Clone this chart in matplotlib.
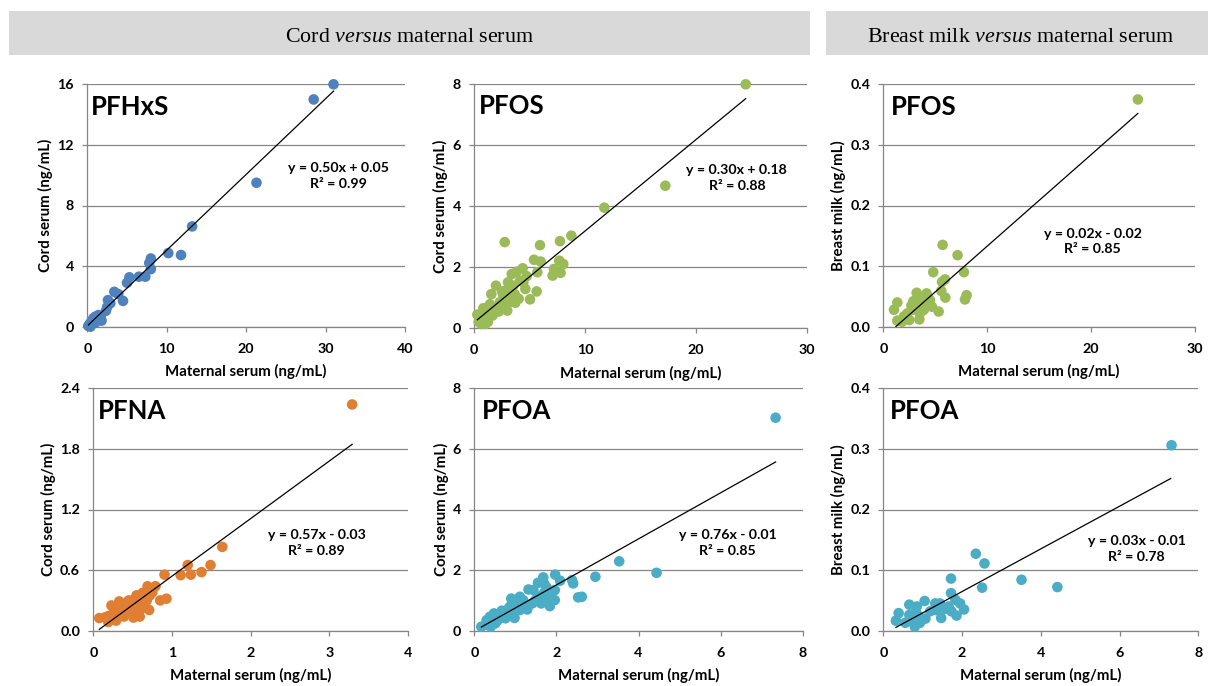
import matplotlib
matplotlib.use("Agg")
import matplotlib.pyplot as plt
import numpy as np
from matplotlib.patches import Rectangle

# ---------------- data ----------------
pfhxs_x = [31.0, 28.5, 21.3, 13.2, 10.2, 11.8, 8.0, 7.8, 8.0, 7.3, 6.5, 5.3, 5.0, 3.4, 3.9, 4.5,
           2.6, 2.9, 2.5, 2.35, 1.4, 1.0, 1.8, 0.55, 0.35, 0.12, 0.75, 1.2, 0.25, 0.4, 0.6, 1.0, 1.5, 1.7]
pfhxs_y = [16.0, 15.0, 9.5, 6.62, 4.86, 4.73, 4.5, 4.2, 3.8, 3.3, 3.3, 3.26, 2.9, 2.3, 2.15, 1.7,
           1.75, 1.55, 1.3, 1.05, 0.77, 0.66, 0.4, 0.33, 0.22, 0.05, 0.55, 0.44, 0.1, 0.0, 0.18, 0.26, 0.48, 0.6]

pfos_c_x = [24.5, 17.25, 11.75, 8.78, 7.75, 2.77, 5.95, 5.41, 6.01, 7.69, 8.05, 7.21, 7.81, 7.09, 5.71,
            4.39, 3.85, 3.40, 4.75, 4.15, 4.63, 5.65, 5.05, 1.98, 1.56, 3.0, 3.67, 3.13, 2.65, 2.34,
            3.73, 3.0, 1.92, 1.44, 0.84, 1.14, 0.54, 0.30, 0.42, 1.26, 0.84, 1.68, 2.22, 2.70, 3.25,
            4.03, 3.55, 4.45, 3.07, 2.52, 0.66, 1.02]
pfos_c_y = [8.0, 4.67, 3.95, 3.03, 2.85, 2.82, 2.72, 2.24, 2.18, 2.21, 2.10, 1.94, 1.81, 1.72, 1.83,
            1.96, 1.85, 1.77, 1.70, 1.55, 1.28, 1.20, 0.94, 1.39, 1.11, 1.26, 1.11, 0.96, 1.07, 0.85,
            0.83, 0.57, 0.63, 0.78, 0.65, 0.48, 0.39, 0.44, 0.20, 0.20, 0.30, 0.41, 0.54, 0.72, 0.85,
            0.96, 1.39, 1.50, 1.50, 1.20, 0.13, 0.13]

pfos_m_x = [24.5, 5.71, 7.15, 4.81, 7.76, 5.94, 5.65, 5.58, 5.97, 8.02, 7.86, 3.21, 4.17, 1.35, 1.03,
            1.35, 2.89, 4.49, 5.33, 3.53, 3.47, 2.50, 2.31, 2.89, 3.91, 3.91, 4.68, 2.0, 1.80, 3.21,
            2.70, 3.72]
pfos_m_y = [0.375, 0.135, 0.118, 0.090, 0.090, 0.078, 0.074, 0.059, 0.048, 0.052, 0.045, 0.056, 0.055,
            0.040, 0.028, 0.010, 0.042, 0.044, 0.025, 0.022, 0.012, 0.011, 0.022, 0.028, 0.028, 0.039,
            0.033, 0.017, 0.008, 0.033, 0.035, 0.044]

pfna_x = [3.29, 1.64, 1.49, 1.20, 1.375, 1.24, 1.11, 0.905, 0.93, 0.85, 0.79, 0.69, 0.75, 0.63, 0.55,
          0.71, 0.64, 0.55, 0.51, 0.45, 0.44, 0.33, 0.23, 0.29, 0.39, 0.19, 0.076, 0.15, 0.29, 0.34,
          0.47, 0.59, 0.53, 0.38, 0.68, 0.49, 0.41, 0.27, 0.61, 0.19, 0.26, 0.52, 0.72, 0.59, 0.65]
pfna_y = [2.24, 0.83, 0.65, 0.65, 0.58, 0.555, 0.55, 0.555, 0.317, 0.30, 0.44, 0.44, 0.38, 0.376, 0.35,
          0.205, 0.258, 0.25, 0.13, 0.30, 0.20, 0.29, 0.25, 0.20, 0.14, 0.086, 0.125, 0.132, 0.10, 0.17,
          0.244, 0.205, 0.27, 0.23, 0.30, 0.19, 0.27, 0.24, 0.30, 0.145, 0.18, 0.31, 0.35, 0.14, 0.23]

pfoa_c_x = [7.34, 3.53, 4.44, 2.95, 2.38, 2.41, 1.97, 2.09, 1.68, 1.70, 1.55, 1.76, 1.96, 1.32, 2.62,
            2.53, 1.96, 1.84, 1.76, 1.55, 1.41, 1.29, 1.19, 1.03, 0.90, 0.92, 0.98, 0.80, 0.67, 0.62,
            0.48, 0.38, 0.30, 0.40, 0.17, 0.56, 0.76, 1.11, 1.26, 1.49, 1.63, 1.44, 1.11, 1.00, 0.85,
            0.51, 0.27, 0.72, 1.70, 1.86]
pfoa_c_y = [7.03, 2.29, 1.91, 1.78, 1.67, 1.56, 1.85, 1.65, 1.76, 1.56, 1.58, 1.43, 1.34, 1.36, 1.12,
            1.10, 1.01, 0.81, 1.08, 1.12, 0.90, 0.70, 1.01, 0.84, 1.06, 0.90, 0.42, 0.57, 0.66, 0.42,
            0.57, 0.46, 0.35, 0.13, 0.13, 0.33, 0.41, 0.68, 0.84, 1.01, 0.90, 1.34, 1.12, 0.66, 0.77,
            0.24, 0.20, 0.51, 1.25, 1.12]

pfoa_m_x = [7.32, 2.35, 2.57, 1.72, 3.51, 4.42, 2.51, 1.72, 1.83, 1.05, 0.66, 0.85, 1.32, 1.44, 1.95,
            2.05, 1.86, 1.47, 1.07, 0.39, 0.32, 0.66, 0.80, 0.73, 0.90, 1.19, 1.57, 1.66, 1.73, 0.93,
            0.56, 1.35, 0.83]
pfoa_m_y = [0.306, 0.127, 0.111, 0.086, 0.084, 0.072, 0.071, 0.062, 0.051, 0.049, 0.043, 0.040, 0.045,
            0.045, 0.045, 0.035, 0.025, 0.021, 0.020, 0.029, 0.0165, 0.026, 0.0066, 0.0165, 0.024, 0.032,
            0.036, 0.040, 0.032, 0.013, 0.013, 0.034, 0.031]

# trend lines (slope, intercept, x-range) as drawn in the picture
trend_slope = [0.50, 0.30, 0.0151, 0.57, 0.76, 0.0352]
trend_icpt = [0.05, 0.18, -0.0181, -0.03, -0.01, -0.0058]
trend_x0 = [0.13, 0.30, 1.22, 0.076, 0.17, 0.32]
trend_x1 = [31.0, 24.5, 24.5, 3.29, 7.34, 7.30]

eq_labels = ["y = 0.50x + 0.05\nR² = 0.99", "y = 0.30x + 0.18\nR² = 0.88", "y = 0.02x - 0.02\nR² = 0.85",
             "y = 0.57x - 0.03\nR² = 0.89", "y = 0.76x - 0.01\nR² = 0.85", "y = 0.03x - 0.01\nR² = 0.78"]
compounds = ["PFHxS", "PFOS", "PFOS", "PFNA", "PFOA", "PFOA"]
ylabels = ["Cord serum (ng/mL)", "Cord serum (ng/mL)", "Breast milk (ng/mL)",
           "Cord serum (ng/mL)", "Cord serum (ng/mL)", "Breast milk (ng/mL)"]
xlabel = "Maternal serum (ng/mL)"
xlims = [40, 30, 30, 4, 8, 8]
xsteps = [10, 10, 10, 1, 2, 2]
ylims = [16, 8, 0.4, 2.4, 8, 0.4]
ysteps = [4, 2, 0.1, 0.6, 2, 0.1]
yfmts = ["{:.0f}", "{:.0f}", "{:.1f}", "{:.1f}", "{:.0f}", "{:.1f}"]
headers = ["Cord $\\it{versus}$ maternal serum", "Breast milk $\\it{versus}$ maternal serum"]

# ---------------- styling / layout ----------------
colors = ["#4F81BD", "#9BBB59", "#9BBB59", "#E07F33", "#4BACC6", "#4BACC6"]
W, H = 1208, 686
def frac(l, r, top, bot):
    return [l / W, 1 - bot / H, (r - l) / W, (bot - top) / H]
positions = [frac(87.3, 405, 84.3, 326.7), frac(474, 806.7, 84.3, 328),
             frac(883.3, 1195, 84.3, 326.7), frac(93.3, 408, 388.3, 630.7),
             frac(474.3, 802.7, 388.3, 630.7), frac(883.3, 1198.3, 388.3, 630.7)]
eq_pos = [(0.792, 0.621), (0.79, 0.615), (0.672, 0.352), (0.71, 0.362), (0.772, 0.362), (0.804, 0.337)]
title_pos = [(0.012, 0.907), (0.014, 0.91), (0.024, 0.907), (0.016, 0.907), (0.022, 0.907), (0.021, 0.907)]

plt.rcParams['font.family'] = ['Lato', 'DejaVu Sans']
plt.rcParams['mathtext.fontset'] = 'custom'
plt.rcParams['mathtext.it'] = 'Liberation Serif:italic'
plt.rcParams['mathtext.rm'] = 'Liberation Serif'

fig = plt.figure(figsize=(W / 100, H / 100), dpi=100)
fig.patch.set_facecolor('white')

# header boxes
fig.patches.append(Rectangle((9 / W, 1 - 55 / H), (810 - 9) / W, 44 / H, transform=fig.transFigure,
                             facecolor='#D9D9D9', edgecolor='none'))
fig.patches.append(Rectangle((826 / W, 1 - 55 / H), (1208 - 826) / W, 44 / H, transform=fig.transFigure,
                             facecolor='#D9D9D9', edgecolor='none'))
fig.text(409.5 / W, 1 - 42.3 / H, headers[0], ha='center', va='baseline', fontsize=15.8,
         family='Liberation Serif')
fig.text(1021 / W, 1 - 42.3 / H, headers[1], ha='center', va='baseline', fontsize=15.8,
         family='Liberation Serif')

data = [(pfhxs_x, pfhxs_y), (pfos_c_x, pfos_c_y), (pfos_m_x, pfos_m_y),
        (pfna_x, pfna_y), (pfoa_c_x, pfoa_c_y), (pfoa_m_x, pfoa_m_y)]

gray = '#868686'
for i in range(6):
    ax = fig.add_axes(positions[i])
    x, y = data[i]
    ax.scatter(x, y, s=58, color=colors[i], edgecolors='none', zorder=3, clip_on=False)
    lx = np.array([trend_x0[i], trend_x1[i]])
    ax.plot(lx, trend_slope[i] * lx + trend_icpt[i], color='black', lw=0.9, zorder=4)
    ax.set_xlim(0, xlims[i])
    ax.set_ylim(0, ylims[i])
    ax.set_xticks(np.arange(0, xlims[i] + xsteps[i] / 2, xsteps[i]))
    yt = np.arange(0, ylims[i] + ysteps[i] / 2, ysteps[i])
    ax.set_yticks(yt)
    ax.set_yticklabels([yfmts[i].format(v) for v in yt])
    ax.grid(axis='y', color=gray, lw=0.9, zorder=0)
    ax.set_axisbelow(True)
    for s in ['top', 'right']:
        ax.spines[s].set_visible(False)
    for s in ['left', 'bottom']:
        ax.spines[s].set_color(gray)
        ax.spines[s].set_linewidth(0.9)
    ax.tick_params(axis='both', direction='out', length=3.5, width=0.9, color=gray,
                   labelsize=10.3)
    ax.tick_params(axis='x', pad=8)
    ax.tick_params(axis='y', pad=6)
    for lab in ax.get_xticklabels() + ax.get_yticklabels():
        lab.set_fontweight('bold')
    ax.set_xlabel(xlabel, fontsize=10.8, fontweight='bold', labelpad=7)
    ax.set_ylabel(ylabels[i], fontsize=10.8, fontweight='bold', labelpad=3)
    ax.text(title_pos[i][0], title_pos[i][1], compounds[i], transform=ax.transAxes,
            fontsize=18.5, fontweight='bold', ha='left', va='center')
    ax.text(eq_pos[i][0], eq_pos[i][1], eq_labels[i], transform=ax.transAxes,
            fontsize=10.2, fontweight='bold', ha='center', va='center', linespacing=1.35)

fig.savefig('out.png', dpi=100, facecolor='white')
